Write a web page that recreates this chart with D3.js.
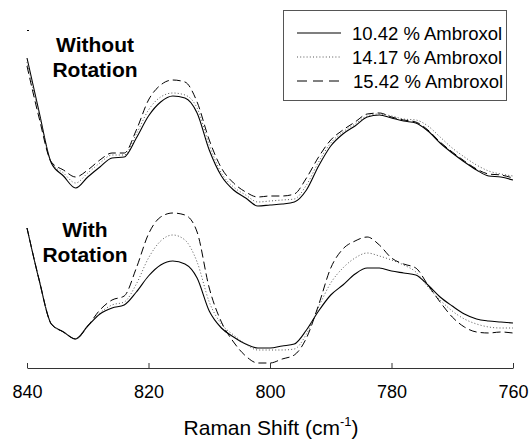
<!DOCTYPE html>
<html>
<head>
<meta charset="utf-8">
<script src="https://cdn.jsdelivr.net/npm/d3@7"></script>
<style>
  body { margin: 0; background: #fff; }
  svg { display: block; font-family: "Liberation Sans", Arial, sans-serif; }
</style>
</head>
<body>
<script>
// Raman shift (cm-1), x positions of the samples
var shifts = [840, 838, 836, 834, 832, 830, 828, 826, 824, 822, 820, 818, 816, 814, 812, 810, 808, 806, 804, 802,
    800, 798, 796, 794, 792, 790, 788, 786, 784, 782, 780, 778, 776, 774, 772, 770, 768, 766, 764, 762, 760];

var series = ["10.42 % Ambroxol", "14.17 % Ambroxol", "15.42 % Ambroxol"];

// intensities (arbitrary units, offset), without rotation
var noRot1042 = [310, 256, 205, 192, 180, 191, 201, 210, 211, 230, 252, 266, 272, 270, 255, 218, 192, 178, 170, 162,
    163, 164, 166, 178, 202, 222, 234, 242, 251, 253, 250, 247, 245, 237, 225, 215, 206, 198, 192, 191, 188];
var noRot1417 = [306, 254, 206, 195, 185, 195, 205, 213, 213, 234, 258, 271, 275, 273, 260, 223, 195, 181, 173, 166,
    167, 168, 169, 183, 206, 225, 236, 244, 252, 254, 252, 249, 248, 242, 231, 220, 211, 203, 197, 194, 192];
var noRot1542 = [302, 250, 206, 198, 191, 198, 208, 215, 215, 238, 268, 283, 288, 286, 266, 228, 200, 185, 176, 171,
    172, 172, 174, 190, 211, 228, 238, 246, 254, 255, 251, 248, 246, 238, 226, 216, 207, 199, 194, 193, 190];

// with rotation
var rot1042 = [140, 88, 44, 36, 29, 42, 54, 60, 63, 76, 92, 103, 107, 104, 90, 57, 40, 31, 24, 20,
    20, 22, 24, 38, 57, 73, 83, 94, 100, 100, 97, 95, 93, 83, 71, 62, 54, 49, 47, 46, 45];
var rot1417 = [140, 88, 44, 36, 29, 42, 55, 63, 66, 84, 110, 127, 133, 128, 106, 66, 44, 33, 24, 18,
    18, 18, 19, 34, 61, 85, 100, 110, 115, 112, 108, 103, 96, 81, 68, 57, 49, 44, 41, 40, 40];
var rot1542 = [140, 88, 44, 36, 29, 42, 58, 68, 72, 100, 134, 151, 155, 153, 136, 80, 46, 26, 12, 5,
    5, 9, 13, 30, 63, 100, 119, 127, 131, 123, 110, 104, 100, 83, 66, 51, 41, 36, 35, 36, 35];

var xTicks = [840, 820, 800, 780, 760];

var width = 529, height = 439;
var margin = { top: 18, right: 16, bottom: 71, left: 27 };

var svg = d3.select("body").append("svg")
    .attr("width", width)
    .attr("height", height);

var x = d3.scaleLinear()
    .domain([840, 760])
    .range([margin.left, width - margin.right]);

var y = d3.scaleLinear()
    .domain([0, 350])
    .range([height - margin.bottom, margin.top]);

// lijnstijlen per serie
var styles = [
    { stroke: "#000", dash: null, width: 1.1 },
    { stroke: "#555", dash: "1,2.2", width: 1 },
    { stroke: "#000", dash: "8,4", width: 1 }
];

var line = d3.line()
    .x(function (d) { return x(d[0]); })
    .y(function (d) { return y(d[1]); })
    .curve(d3.curveMonotoneX);

var groups = [
    [noRot1042, noRot1417, noRot1542],
    [rot1042, rot1417, rot1542]
];

groups.forEach(function (grp) {
    grp.forEach(function (vals, i) {
        svg.append("path")
            .datum(shifts.map(function (s, j) { return [s, vals[j]]; }))
            .attr("fill", "none")
            .attr("stroke", styles[i].stroke)
            .attr("stroke-width", styles[i].width)
            .attr("stroke-dasharray", styles[i].dash)
            .attr("d", line);
    });
});

// x-as met ticks naar binnen
var xAxis = svg.append("g")
    .attr("transform", "translate(0," + (height - margin.bottom) + ")")
    .call(d3.axisBottom(x).tickValues(xTicks).tickSizeInner(-5).tickSizeOuter(0).tickPadding(17));
xAxis.select(".domain").attr("stroke", "#333");
xAxis.selectAll(".tick line").attr("stroke", "#333");
xAxis.selectAll(".tick text")
    .attr("font-size", 18)
    .attr("fill", "#000")
    .attr("font-family", "Liberation Sans, Arial, sans-serif");

// kleine streep links boven (restant van de y-as)
var yAxis = svg.append("g")
    .attr("transform", "translate(" + margin.left + ",0)")
    .call(d3.axisLeft(y).tickValues([338]).tickSizeInner(-2).tickFormat(""));
yAxis.select(".domain").remove();
yAxis.selectAll(".tick line").attr("stroke", "#000");

// as-titel
var title = svg.append("text")
    .attr("x", 271)
    .attr("y", 435)
    .attr("text-anchor", "middle")
    .attr("font-size", 21)
    .attr("fill", "#000")
    .text("Raman Shift (cm");
title.append("tspan")
    .attr("font-size", 13)
    .attr("dy", -9)
    .text("-1");
title.append("tspan")
    .attr("dy", 9)
    .text(")");

// labels bij de groepen
function label(lines, cx, y0) {
    svg.append("text")
        .attr("text-anchor", "middle")
        .attr("font-size", 21)
        .attr("font-weight", "bold")
        .attr("fill", "#000")
        .selectAll("tspan")
        .data(lines)
        .enter().append("tspan")
        .attr("x", cx)
        .attr("y", function (d, i) { return y0 + i * 25; })
        .text(function (d) { return d; });
}
label(["Without", "Rotation"], 95, 52);
label(["With", "Rotation"], 85, 237);

// legenda
var legend = svg.append("g");
legend.append("rect")
    .attr("x", 283.5)
    .attr("y", 10.5)
    .attr("width", 223)
    .attr("height", 90)
    .attr("fill", "#fff")
    .attr("stroke", "#555")
    .attr("stroke-width", 1);

var items = legend.selectAll("g.item")
    .data(series)
    .enter().append("g")
    .attr("class", "item")
    .attr("transform", function (d, i) { return "translate(0," + (33 + i * 24) + ")"; });

items.append("line")
    .attr("x1", 297)
    .attr("x2", 341)
    .attr("stroke", function (d, i) { return styles[i].stroke; })
    .attr("stroke-width", function (d, i) { return styles[i].width; })
    .attr("stroke-dasharray", function (d, i) { return i === 2 ? "10,6" : styles[i].dash; });

items.append("text")
    .attr("x", function (d, i) { return i === 2 ? 353 : 352; })
    .attr("dy", "0.36em")
    .attr("font-size", 18.5)
    .attr("fill", "#000")
    .text(function (d) { return d; });
</script>
</body>
</html>
